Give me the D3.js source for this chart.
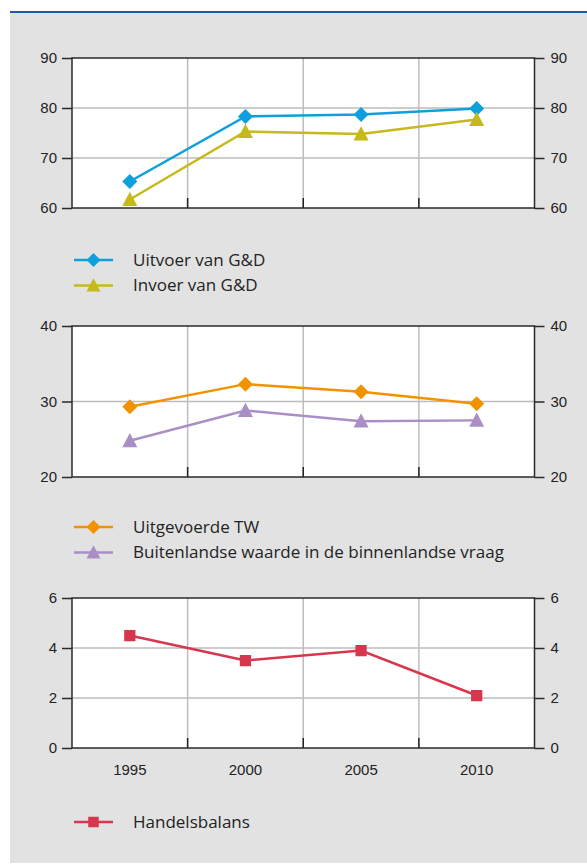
<!DOCTYPE html>
<html lang="nl">
<head>
    <meta charset="UTF-8">
    <title>Handel G&amp;D</title>
    <script src="https://d3js.org/d3.v7.min.js"></script>
    <style>
        body { margin: 0; background: #fff; }
        svg { display: block; font-family: "Open Sans", "Noto Sans", sans-serif; }
    </style>
</head>
<body>
    <div id="chart"></div>
    <script>
        // data
        const years = ['1995', '2000', '2005', '2010'];
        const uitvoer = [65.3, 78.3, 78.7, 79.9];
        const invoer = [61.7, 75.3, 74.8, 77.7];
        const uitgevoerdeTW = [29.3, 32.3, 31.3, 29.7];
        const buitenlandseWaarde = [24.8, 28.8, 27.4, 27.5];
        const handelsbalans = [4.5, 3.5, 3.9, 2.1];

        const ticks1 = [60, 70, 80, 90];
        const ticks2 = [20, 30, 40];
        const ticks3 = [0, 2, 4, 6];

        const width = 587, height = 864;
        const left = 72, right = 534.5;

        const svg = d3.select('#chart').append('svg')
            .attr('width', width)
            .attr('height', height);

        // grey panel + blue rule on top
        svg.append('rect')
            .attr('x', 10).attr('y', 12)
            .attr('width', width - 10).attr('height', 851)
            .attr('fill', '#e2e2e2');
        svg.append('line')
            .attr('x1', 10).attr('x2', width)
            .attr('y1', 12).attr('y2', 12)
            .attr('stroke', '#1d5aa6').attr('stroke-width', 2);

        const x = d3.scaleBand().domain(years).range([left, right]);

        const panels = [
            {
                top: 58, bottom: 208, domain: [60, 90], ticks: ticks1, labels: false,
                series: [
                    { name: 'Uitvoer van G&D', values: uitvoer, color: '#0ea0dd', symbol: 'diamond' },
                    { name: 'Invoer van G&D', values: invoer, color: '#c5b91b', symbol: 'triangle' }
                ],
                legendY: 260
            },
            {
                top: 326, bottom: 477, domain: [20, 40], ticks: ticks2, labels: false,
                series: [
                    { name: 'Uitgevoerde TW', values: uitgevoerdeTW, color: '#f39200', symbol: 'diamond' },
                    { name: 'Buitenlandse waarde in de binnenlandse vraag', values: buitenlandseWaarde, color: '#a98fc6', symbol: 'triangle' }
                ],
                legendY: 527
            },
            {
                top: 598, bottom: 748, domain: [0, 6], ticks: ticks3, labels: true,
                series: [
                    { name: 'Handelsbalans', values: handelsbalans, color: '#d8364d', symbol: 'square' }
                ],
                legendY: 822
            }
        ];

        function symbolPath(type, size) {
            if (type === 'diamond') {
                const r = size;
                return `M0,${-r}L${r},0L0,${r}L${-r},0Z`;
            }
            if (type === 'triangle') {
                const w = size, h = size * 1.9;
                return `M0,${-h * 0.55}L${w},${h * 0.45}L${-w},${h * 0.45}Z`;
            }
            const s = size * 0.75;
            return `M${-s},${-s}H${s}V${s}H${-s}Z`;
        }

        panels.forEach(p => {
            const y = d3.scaleLinear().domain(p.domain).range([p.bottom, p.top]);
            const g = svg.append('g');

            g.append('rect')
                .attr('x', left).attr('y', p.top)
                .attr('width', right - left).attr('height', p.bottom - p.top)
                .attr('fill', '#fff');

            // grid
            g.selectAll('.hgrid')
                .data(p.ticks.slice(1, -1))
                .join('line')
                .attr('x1', left).attr('x2', right)
                .attr('y1', d => y(d)).attr('y2', d => y(d))
                .attr('stroke', '#bdbdbd').attr('stroke-width', 1.5);
            g.selectAll('.vgrid')
                .data(years.slice(1))
                .join('line')
                .attr('x1', d => x(d)).attr('x2', d => x(d))
                .attr('y1', p.top).attr('y2', p.bottom)
                .attr('stroke', '#bdbdbd').attr('stroke-width', 1.5);
            // small ticks on the bottom axis
            g.selectAll('.xtick')
                .data(years.slice(1))
                .join('line')
                .attr('x1', d => x(d)).attr('x2', d => x(d))
                .attr('y1', p.bottom - 10).attr('y2', p.bottom)
                .attr('stroke', '#222').attr('stroke-width', 1.5);

            // frame
            g.append('rect')
                .attr('x', left).attr('y', p.top)
                .attr('width', right - left).attr('height', p.bottom - p.top)
                .attr('fill', 'none').attr('stroke', '#2a2a2a').attr('stroke-width', 1.5);

            // y axes both sides
            const fmt = d3.format('d');
            const axL = d3.axisLeft(y).tickValues(p.ticks).tickFormat(fmt).tickSize(10).tickPadding(5);
            const axR = d3.axisRight(y).tickValues(p.ticks).tickFormat(fmt).tickSize(10).tickPadding(6);
            [[axL, left], [axR, right]].forEach(([ax, pos]) => {
                const a = g.append('g').attr('transform', `translate(${pos},0)`).call(ax);
                a.select('.domain').remove();
                a.selectAll('line').attr('stroke', '#2a2a2a').attr('stroke-width', 1.5);
                a.selectAll('text').attr('fill', '#222').style('font-size', '15px');
            });

            if (p.labels) {
                const axB = d3.axisBottom(x).tickSize(0).tickPadding(16);
                const b = g.append('g').attr('transform', `translate(0,${p.bottom})`).call(axB);
                b.select('.domain').remove();
                b.selectAll('text').attr('fill', '#222').style('font-size', '15px');
            }

            const line = d3.line()
                .x((d, i) => x(years[i]) + x.bandwidth() / 2)
                .y(d => y(d));

            p.series.forEach(s => {
                g.append('path')
                    .datum(s.values)
                    .attr('d', line)
                    .attr('fill', 'none')
                    .attr('stroke', s.color)
                    .attr('stroke-width', 2.5);
            });
            const clipId = 'clip' + p.top;
            svg.append('clipPath').attr('id', clipId)
                .append('rect')
                .attr('x', left).attr('y', p.top - 20)
                .attr('width', right - left).attr('height', p.bottom - p.top + 20);
            p.series.forEach(s => {
                g.append('g').attr('clip-path', `url(#${clipId})`)
                    .selectAll('path')
                    .data(s.values)
                    .join('path')
                    .attr('transform', (d, i) => `translate(${x(years[i]) + x.bandwidth() / 2},${y(d)})`)
                    .attr('d', symbolPath(s.symbol, 7.5))
                    .attr('fill', s.color);
            });

            // legend
            p.series.forEach((s, i) => {
                const ly = p.legendY + i * 25.5;
                const lg = g.append('g').attr('transform', `translate(0,${ly})`);
                lg.append('line')
                    .attr('x1', 74).attr('x2', 113)
                    .attr('stroke', s.color).attr('stroke-width', 2.5);
                lg.append('path')
                    .attr('transform', 'translate(93.5,0)')
                    .attr('d', symbolPath(s.symbol, 7))
                    .attr('fill', s.color);
                lg.append('text')
                    .attr('x', 133).attr('dy', '0.35em')
                    .attr('fill', '#222')
                    .style('font-size', '17px')
                    .text(s.name);
            });
        });
    </script>
</body>
</html>
